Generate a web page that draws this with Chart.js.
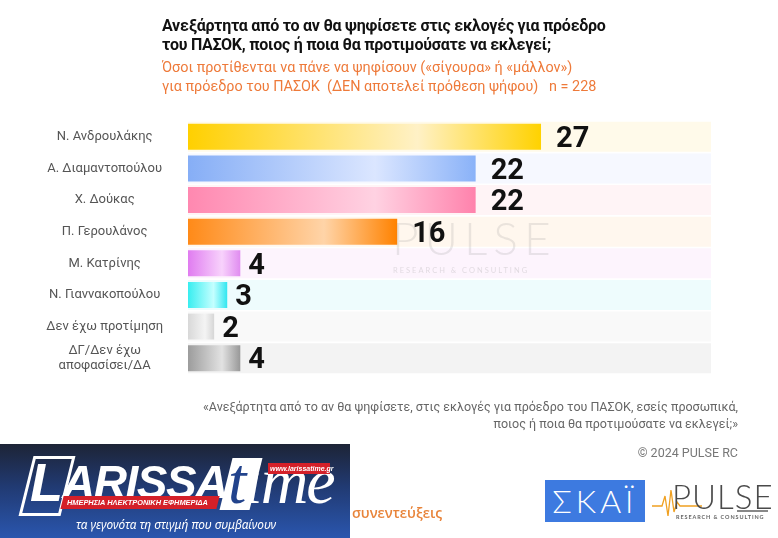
<!DOCTYPE html>
<html>
<head>
<meta charset="utf-8">
<script src="https://cdn.jsdelivr.net/npm/chart.js@4.4.1/dist/chart.umd.min.js"></script>
<style>
  html,body{margin:0;padding:0;background:#fff;}
  body{width:778px;height:538px;position:relative;overflow:hidden;font-family:Roboto,"Noto Sans",sans-serif;}
  #wrap{position:absolute;left:0;top:0;width:778px;height:538px;}
  .abs{position:absolute;white-space:nowrap;}
  #title{left:162px;top:16px;font-size:16px;font-weight:700;color:#111;line-height:19px;letter-spacing:-0.25px;}
  #sub{left:162px;top:58px;font-size:14.4px;color:#ee7a3a;line-height:19px;}
  #quote{right:40px;top:399px;font-size:12.5px;color:#666;line-height:16.5px;text-align:right;}
  #copy{right:40px;top:445px;font-size:12.5px;color:#777;}
  #wm{left:392px;top:210px;font-family:Lato,sans-serif;font-weight:300;font-size:46px;letter-spacing:6px;color:rgba(150,150,150,0.2);}
  #wm2{left:393px;top:266px;font-family:Lato,sans-serif;font-size:7.5px;letter-spacing:2px;color:rgba(150,150,150,0.28);}
  #lt{left:0;top:444px;width:350px;height:94px;background:linear-gradient(180deg,#1d2436 0%,#213a72 45%,#2a56ae 100%);overflow:hidden;}
  #syn{left:352px;top:503px;font-family:"Open Sans",sans-serif;font-weight:600;font-size:14px;color:#e8843a;}
  #skai{left:545px;top:480px;width:100px;height:42px;background:#3d7ae0;color:#fff;font-family:Lato,sans-serif;font-weight:300;font-size:32px;line-height:42px;text-align:center;letter-spacing:4px;}
  #pl{left:672px;top:480px;font-family:Lato,sans-serif;font-weight:300;font-size:33px;color:#4a4a4a;letter-spacing:1px;line-height:33px;}
  #pl2{left:676px;top:514px;font-family:Lato,sans-serif;font-weight:700;font-size:5.5px;color:#666;letter-spacing:0.9px;}
</style>
</head>
<body>
<div id="wrap"><canvas id="c" width="778" height="538"></canvas></div>

<div class="abs" id="wm">PULSE</div>
<div class="abs" id="wm2">RESEARCH &amp; CONSULTING</div>

<div class="abs" id="title">Ανεξάρτητα από το αν θα ψηφίσετε στις εκλογές για πρόεδρο<br>του ΠΑΣΟΚ, ποιος ή ποια θα προτιμούσατε να εκλεγεί;</div>
<div class="abs" id="sub">Όσοι προτίθενται να πάνε να ψηφίσουν («σίγουρα» ή «μάλλον»)<br>για πρόεδρο του ΠΑΣΟΚ &nbsp;(ΔΕΝ αποτελεί πρόθεση ψήφου) &nbsp; n = 228</div>

<div class="abs" id="quote">«Ανεξάρτητα από το αν θα ψηφίσετε, στις εκλογές για πρόεδρο του ΠΑΣΟΚ, εσείς προσωπικά,<br>ποιος ή ποια θα προτιμούσατε να εκλεγεί;»</div>
<div class="abs" id="copy">© 2024 PULSE RC</div>

<div class="abs" id="syn">συνεντεύξεις</div>

<div class="abs" id="lt">
  <div class="abs" style="left:26px;top:12px;width:36px;height:54px;border:3px solid #fff;transform:skewX(-14deg);"></div>
  <div class="abs" style="left:30px;top:8px;font-family:'Liberation Sans',sans-serif;font-weight:900;font-style:italic;font-size:54px;line-height:60px;color:#fff;letter-spacing:-2px;">L</div>
  <div class="abs" style="left:62px;top:14px;font-family:'Liberation Sans',sans-serif;font-weight:700;font-style:italic;font-size:46px;line-height:48px;color:#fff;letter-spacing:-1.5px;">ARISSA</div>
  <div class="abs" style="left:62px;top:52px;width:156px;height:13px;background:#d42029;transform:skewX(-14deg);"></div>
  <div class="abs" style="left:67px;top:53px;font-family:'Liberation Sans',sans-serif;font-weight:700;font-style:italic;font-size:7.4px;line-height:12px;color:#fff;">ΗΜΕΡΗΣΙΑ ΗΛΕΚΤΡΟΝΙΚΗ ΕΦΗΜΕΡΙΔΑ</div>
  <div class="abs" style="left:226px;top:14px;width:30px;height:52px;background:#fff;transform:skewX(-14deg);"></div>
  <div class="abs" style="left:228px;top:2px;font-family:'Liberation Serif',serif;font-style:italic;font-size:66px;line-height:70px;color:#fff;letter-spacing:-2px;"><span style="color:#22438c">t</span>ime</div>
  <div class="abs" style="left:268px;top:19px;width:62px;height:11px;background:#d42029;"></div>
  <div class="abs" style="left:270px;top:19px;font-family:'Liberation Sans',sans-serif;font-weight:700;font-style:italic;font-size:7px;line-height:11px;color:#fff;">www.larissatime.gr</div>
  <div class="abs" style="left:76px;top:71px;font-family:'Noto Sans',sans-serif;font-style:italic;font-size:11.8px;line-height:18px;color:#fff;">τα γεγονότα τη στιγμή που συμβαίνουν</div>
</div>

<div class="abs" id="skai">ΣΚΑΪ</div>
<svg class="abs" style="left:652px;top:486px;" width="50" height="36"><polyline points="0,20 10,20 13,10 16,30 19,4 22,26 25,16 28,20 50,20" fill="none" stroke="#f0a020" stroke-width="1.3"/></svg>
<div class="abs" id="pl">PULSE</div>
<div class="abs" style="left:737px;top:510px;width:31px;height:2px;background:#888;"></div>
<div class="abs" id="pl2">RESEARCH &amp; CONSULTING</div>

<script>
const categories = [
  "Ν. Ανδρουλάκης",
  "Α. Διαμαντοπούλου",
  "Χ. Δούκας",
  "Π. Γερουλάνος",
  "Μ. Κατρίνης",
  "Ν. Γιαννακοπούλου",
  "Δεν έχω προτίμηση",
  ["ΔΓ/Δεν έχω", "αποφασίσει/ΔΑ"]
];
const values = [27, 22, 22, 16, 4, 3, 2, 4];
const trackValues = [40, 40, 40, 40, 40, 40, 40, 40];
const axisMax = 40;

const barStart = ["#ffd000", "#86aef6", "#ff88b0", "#ff8a18", "#e07cf0", "#38eef0", "#d8d8d8", "#9c9c9c"];
const barMid   = ["#fff1c6", "#dbe6ff", "#ffd2e2", "#ffd4a8", "#f8d2fc", "#c4ffff", "#f4f4f4", "#e2e2e2"];
const barEnd   = ["#ffd200", "#8ab2f8", "#ff82ac", "#ff8200", "#e08cf0", "#30e6f0", "#d6d6d6", "#989898"];
const trackColors = ["#fffaea", "#f6f8ff", "#fff4f6", "#fff7ee", "#fdf4fd", "#eefcfd", "#f9f9f9", "#f3f3f3"];

function barGradient(ctx) {
  const i = ctx.dataIndex;
  const chart = ctx.chart;
  const xs = chart.scales && chart.scales.x;
  if (!xs || !chart.chartArea || ctx.type !== 'data') return barMid[i];
  const x0 = xs.getPixelForValue(0);
  const x1 = xs.getPixelForValue(values[i]);
  const g = chart.ctx.createLinearGradient(x0, 0, x1, 0);
  g.addColorStop(0, barStart[i]);
  g.addColorStop(0.65, barMid[i]);
  g.addColorStop(1, barEnd[i]);
  return g;
}

const valueLabels = {
  id: 'valueLabels',
  afterDatasetsDraw(chart) {
    const meta = chart.getDatasetMeta(0);
    const c = chart.ctx;
    c.save();
    c.font = '700 29px Roboto, "Liberation Sans", sans-serif';
    c.fillStyle = '#111';
    c.textAlign = 'left';
    c.textBaseline = 'middle';
    meta.data.forEach((el, i) => {
      const txt = String(values[i]);
      const off = txt.length > 1 ? 15 : 8;
      c.fillText(txt, el.x + off, el.y + 3);
    });
    c.restore();
  }
};

new Chart(document.getElementById('c'), {
  type: 'bar',
  data: {
    labels: categories,
    datasets: [
      {
        data: values,
        backgroundColor: barGradient,
        borderWidth: 0,
        barPercentage: 0.82,
        categoryPercentage: 1,
        grouped: false,
        order: 1
      },
      {
        data: trackValues,
        backgroundColor: trackColors,
        borderWidth: 0,
        barPercentage: 0.95,
        categoryPercentage: 1,
        grouped: false,
        order: 2
      }
    ]
  },
  options: {
    indexAxis: 'y',
    responsive: false,
    animation: false,
    layout: { padding: { top: 121, bottom: 164, right: 67, left: 0 } },
    plugins: { legend: { display: false }, tooltip: { enabled: false } },
    scales: {
      x: { display: false, min: 0, max: axisMax },
      y: {
        grid: { display: false, drawTicks: false },
        border: { display: false },
        afterFit(scale) { scale.width = 188; },
        ticks: {
          crossAlign: 'center',
          padding: 25,
          color: '#555',
          font: { family: 'Roboto, "Noto Sans", sans-serif', size: 13 },
          autoSkip: false
        }
      }
    }
  },
  plugins: [valueLabels]
});
</script>
</body>
</html>
